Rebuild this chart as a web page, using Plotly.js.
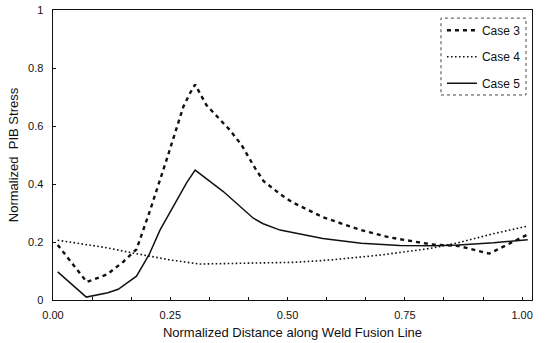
<!DOCTYPE html>
<html>
<head>
<meta charset="utf-8">
<script src="https://cdn.plot.ly/plotly-3.0.1.min.js"></script>
<style>html,body{margin:0;padding:0;background:#fff;}#chart{width:545px;height:343px;}</style>
</head>
<body>
<div id="chart"></div>
<script>
// Case 3 (dashed)
const case3X = [0.01, 0.072, 0.115, 0.15, 0.178, 0.205, 0.242, 0.278, 0.292, 0.303, 0.327, 0.377, 0.402, 0.431, 0.449, 0.484, 0.509, 0.576, 0.655, 0.72, 0.806, 0.865, 0.93, 1.012];
const case3Y = [0.19, 0.062, 0.088, 0.132, 0.175, 0.3, 0.483, 0.667, 0.713, 0.743, 0.672, 0.586, 0.534, 0.454, 0.41, 0.365, 0.338, 0.285, 0.242, 0.215, 0.192, 0.186, 0.16, 0.226];
// Case 4 (dotted)
const case4X = [0.01, 0.108, 0.174, 0.25, 0.313, 0.405, 0.516, 0.591, 0.698, 0.805, 0.865, 0.94, 1.012];
const case4Y = [0.206, 0.182, 0.161, 0.138, 0.124, 0.127, 0.13, 0.138, 0.155, 0.178, 0.198, 0.229, 0.255];
// Case 5 (solid)
const case5X = [0.01, 0.071, 0.117, 0.139, 0.178, 0.205, 0.228, 0.285, 0.303, 0.363, 0.427, 0.448, 0.484, 0.523, 0.575, 0.657, 0.739, 0.813, 0.865, 0.939, 1.012];
const case5Y = [0.097, 0.01, 0.025, 0.037, 0.082, 0.157, 0.241, 0.405, 0.448, 0.374, 0.282, 0.263, 0.241, 0.228, 0.212, 0.196, 0.188, 0.187, 0.19, 0.197, 0.208];

const seriesNames = ["Case 3", "Case 4", "Case 5"];
const xTickVals = [0, 0.25, 0.5, 0.75, 1.0];
const xTickText = ["0.00", "0.25", "0.50", "0.75", "1.00"];
const yTickVals = [0, 0.2, 0.4, 0.6, 0.8, 1];
const yTickText = ["0", "0.2", "0.4", "0.6", "0.8", "1"];

const ink = "#111111";
const traces = [
  {x: case3X, y: case3Y, name: seriesNames[0], mode: "lines", legendgroup: "a",
   line: {color: ink, width: 2.4, dash: "4px,4px"}},
  {x: case4X, y: case4Y, name: seriesNames[1], mode: "lines", legendgroup: "b",
   line: {color: ink, width: 1.6, dash: "1.6px,2.4px"}},
  {x: case5X, y: case5Y, name: seriesNames[2], mode: "lines", legendgroup: "c",
   line: {color: ink, width: 1.5}}
];

const font = {family: "Liberation Sans, Arial, sans-serif", size: 11, color: ink};
const layout = {
  width: 545, height: 343,
  margin: {l: 53, r: 13, t: 10, b: 43},
  paper_bgcolor: "#fff", plot_bgcolor: "#fff",
  font: font,
  showlegend: true,
  legend: {x: 0.812, y: 0.98, xanchor: "left", yanchor: "top",
    bgcolor: "rgba(0,0,0,0)", borderwidth: 0, traceorder: "grouped",
    tracegroupgap: 7.5, font: {family: font.family, size: 12, color: ink}},
  xaxis: {range: [0, 1.021], tickvals: xTickVals, ticktext: xTickText,
    ticks: "inside", ticklen: 3, tickcolor: ink, showgrid: false, zeroline: false,
    showline: true, linecolor: ink, linewidth: 1.4, mirror: true,
    minor: {dtick: 1/12, tick0: 0, ticks: "inside", ticklen: 3, tickcolor: ink, showgrid: false},
    tickfont: font, ticklabelstandoff: 4,
    title: {text: "Normalized Distance along Weld Fusion Line", font: {family: font.family, size: 13, color: ink}, standoff: 8}},
  yaxis: {range: [0, 1], tickvals: yTickVals, ticktext: yTickText,
    ticks: "inside", ticklen: 3, tickcolor: ink, showgrid: false, zeroline: false,
    showline: true, linecolor: ink, linewidth: 1.4, mirror: true,
    tickfont: font, ticklabelstandoff: 6,
    title: {text: "Normalized\u00a0\u00a0PIB Stress", font: {family: font.family, size: 13, color: ink}, standoff: 6}},
  shapes: [
    {type: "rect", xref: "paper", yref: "paper", x0: 0.81, x1: 0.9875, y0: 0.707, y1: 0.972,
     line: {color: "#444", width: 1, dash: "dot"}}
  ]
};

Plotly.newPlot("chart", traces, layout, {staticPlot: true, displayModeBar: false});
</script>
</body>
</html>
